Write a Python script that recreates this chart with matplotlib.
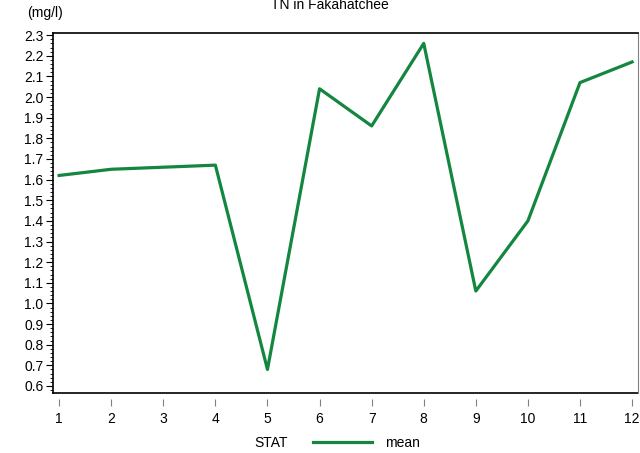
import matplotlib
matplotlib.use('Agg')
import matplotlib.pyplot as plt
from matplotlib.ticker import MultipleLocator
from matplotlib.lines import Line2D

plt.rcParams['font.family'] = ['Liberation Sans', 'DejaVu Sans']

# monthly mean TN (mg/l)
months = [1, 2, 3, 4, 5, 6, 7, 8, 9, 10, 11, 12]
tn_mean = [1.62, 1.65, 1.66, 1.67, 0.68, 2.04, 1.86, 2.26, 1.06, 1.40, 2.07, 2.17]

line_color = '#13863f'

fig = plt.figure(figsize=(6.4, 4.53), dpi=100)
ax = fig.add_axes([0.083, 0.1325, 0.914, 0.7945])

ax.plot(months, tn_mean, color=line_color, linewidth=2.3)

ax.set_xlim(0.885, 12.115)
ax.set_ylim(0.566, 2.31)

ax.yaxis.set_major_locator(MultipleLocator(0.1))
ax.yaxis.set_minor_locator(MultipleLocator(0.02))
ax.yaxis.set_major_formatter(plt.FormatStrFormatter('%.1f'))
ax.set_xticks(months)

ax.tick_params(axis='y', which='major', length=5, width=0.8, labelsize=10, pad=2)
ax.tick_params(axis='y', which='minor', length=2.5, width=0.6)
ax.tick_params(axis='x', which='major', length=5, width=0.8, color='#808080',
               labelsize=10, pad=5)

# SAS-style frame: x axis drawn detached below the plot area
ax.spines['bottom'].set_position(('outward', 4))
ax.spines['bottom'].set_visible(False)
ax.plot([0, 1], [0, 0], transform=ax.transAxes, color='black', linewidth=1.2,
        clip_on=False)
ax.spines['top'].set_linewidth(1.2)
ax.spines['left'].set_linewidth(1.2)
ax.spines['right'].set_color('#808080')

fig.text(0.516, 0.99, 'TN in Fakahatchee', ha='center', va='center', fontsize=10)
fig.text(0.042, 0.971, '(mg/l)', ha='left', va='center', fontsize=10)

# legend row at the bottom
fig.text(0.398, 0.022, 'STAT', ha='left', va='center', fontsize=10)
fig.add_artist(Line2D([0.489, 0.581], [0.024, 0.024], color=line_color,
                      linewidth=2.3, transform=fig.transFigure))
fig.text(0.601, 0.022, 'mean', ha='left', va='center', fontsize=10)

fig.savefig('out.png', dpi=100)
